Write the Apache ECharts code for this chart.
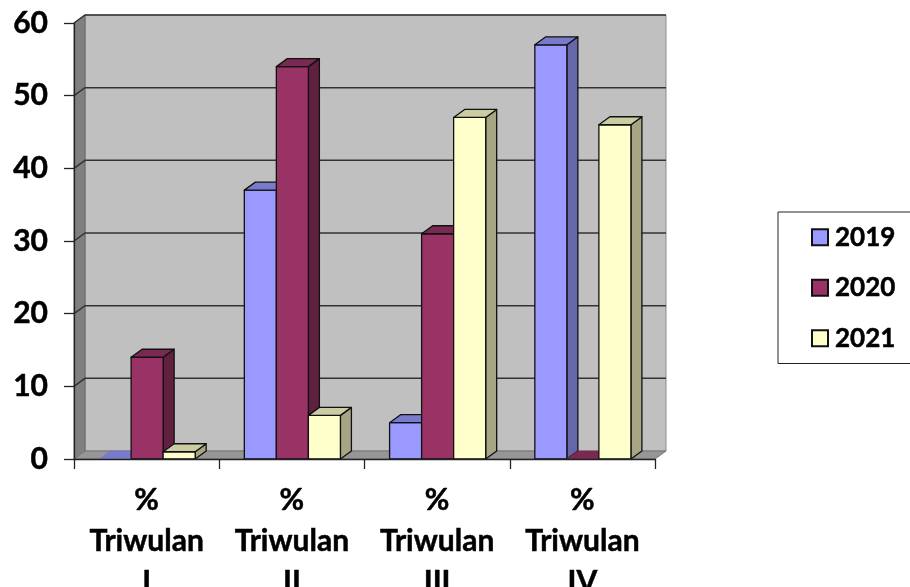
<!DOCTYPE html>
<html>
<head>
<meta charset="utf-8">
<style>html,body{margin:0;padding:0;background:#fff;overflow:hidden}#chart{width:910px;height:587px}</style>
<script src="https://cdn.jsdelivr.net/npm/echarts@6/dist/echarts.min.js"></script>
</head>
<body>
<div id="chart"></div>
<script>
const categories = ['%\nTriwulan\nI', '%\nTriwulan\nII', '%\nTriwulan\nIII', '%\nTriwulan\nIV'];
const yTicks = [0, 10, 20, 30, 40, 50, 60];
const values2019 = [0, 37, 5, 57];
const values2020 = [14, 54, 31, 0];
const values2021 = [1, 6, 47, 46];

const seriesNames = ['2019', '2020', '2021'];
const seriesValues = [values2019, values2020, values2021];
const faceColors = [
  { front: '#9999FF', top: '#7A7ACC', side: '#6666AA' },
  { front: '#993366', top: '#7A2952', side: '#602040' },
  { front: '#FFFFCC', top: '#CCCCA3', side: '#A6A684' }
];

const DEPTH_X = 11, DEPTH_Y = 8;
const FONT = 'Lato, "Open Sans", sans-serif';
const boldText = { textBorderColor: '#000', textBorderWidth: 0.5 };

function poly(points, fill, stroke, width) {
  return {
    type: 'polygon',
    shape: { points },
    style: { fill, stroke, lineWidth: width, lineJoin: 'round' }
  };
}

// Back wall, side wall, floor and the gridlines that wrap around the walls.
function renderWalls(params, api) {
  const cs = params.coordSys;
  const left = cs.x, right = cs.x + cs.width;
  const y = api.coord([0, api.value(1)])[1];
  const children = [];
  if (params.dataIndex === 0) {
    const top = cs.y, bottom = cs.y + cs.height;
    children.push(
      poly([[left + DEPTH_X, top - DEPTH_Y], [right + DEPTH_X, top - DEPTH_Y],
            [right + DEPTH_X, bottom - DEPTH_Y], [left + DEPTH_X, bottom - DEPTH_Y]], '#C0C0C0', '#8C8C8C', 1),
      poly([[left, top], [left + DEPTH_X, top - DEPTH_Y],
            [left + DEPTH_X, bottom - DEPTH_Y], [left, bottom]], '#808080', '#666666', 1),
      poly([[left, bottom], [left + DEPTH_X, bottom - DEPTH_Y],
            [right + DEPTH_X, bottom - DEPTH_Y], [right, bottom]], '#969696', '#777777', 1)
    );
  }
  if (api.value(1) > 0) {
    children.push({
      type: 'polyline',
      shape: { points: [[left, y], [left + DEPTH_X, y - DEPTH_Y], [right + DEPTH_X, y - DEPTH_Y]] },
      style: { fill: 'none', stroke: '#333333', lineWidth: 1.5 }
    });
  }
  return { type: 'group', children };
}

// One extruded column: front, top and side faces, offset inside its category band.
function makeBarRenderer(seriesIndex) {
  return function (params, api) {
    const center = api.coord([api.value(0), 0]);
    const tip = api.coord([api.value(0), api.value(1)]);
    const band = api.size([1, 0])[0];
    const w = band * 0.2205;
    const x0 = center[0] + (seriesIndex - 1.5) * w + 0.5;
    const x1 = x0 + w;
    const yB = center[1], yT = tip[1];
    const c = faceColors[seriesIndex];
    const edge = '#111111';
    const children = [];
    if (yB - yT > 0.5) {
      children.push(poly([[x1, yT], [x1 + DEPTH_X, yT - DEPTH_Y], [x1 + DEPTH_X, yB - DEPTH_Y], [x1, yB]], c.side, edge, 1.3));
      children.push(poly([[x0, yT], [x1, yT], [x1, yB], [x0, yB]], c.front, edge, 1.3));
      children.push(poly([[x0, yT], [x0 + DEPTH_X, yT - DEPTH_Y], [x1 + DEPTH_X, yT - DEPTH_Y], [x1, yT]], c.top, edge, 1.3));
    } else {
      children.push(poly([[x0, yT], [x0 + DEPTH_X, yT - DEPTH_Y], [x1 + DEPTH_X, yT - DEPTH_Y], [x1, yT]], c.top, c.top, 0.5));
    }
    return { type: 'group', children };
  };
}

const chart = echarts.init(document.getElementById('chart'), null, { renderer: 'canvas' });
chart.setOption({
  animation: false,
  backgroundColor: '#ffffff',
  grid: { left: 74, top: 23, width: 581, height: 436, containLabel: false, outerBoundsMode: 'none' },
  xAxis: {
    type: 'category',
    data: categories,
    z: 5,
    axisLine: { lineStyle: { color: '#222222', width: 1.3 } },
    axisTick: { show: true, length: 10, alignWithLabel: false, lineStyle: { color: '#222222', width: 1.3 } },
    axisLabel: Object.assign({
      interval: 0, margin: 21, color: '#000', fontFamily: FONT, fontWeight: 'bold',
      fontSize: 30, lineHeight: 41, overflow: 'none', hideOverlap: false
    }, boldText),
    splitLine: { show: false }
  },
  yAxis: {
    type: 'value',
    min: 0, max: 60, interval: 10,
    z: 5,
    axisLine: { show: true, lineStyle: { color: '#222222', width: 1.3 } },
    axisTick: { show: true, length: 10, lineStyle: { color: '#222222', width: 1.3 } },
    axisLabel: Object.assign({ margin: 26, color: '#000', fontFamily: FONT, fontWeight: 'bold', fontSize: 30 }, boldText),
    splitLine: { show: false }
  },
  legend: {
    show: true,
    data: seriesNames,
    orient: 'vertical',
    left: 778,
    top: 212,
    padding: [12, 40, 12, 33],
    itemGap: 24,
    itemWidth: 16,
    itemHeight: 16,
    icon: 'rect',
    borderColor: '#222222',
    borderWidth: 1,
    backgroundColor: '#ffffff',
    selectedMode: false,
    textStyle: Object.assign({ color: '#000', fontFamily: FONT, fontWeight: 'bold', fontSize: 26, padding: [0, 0, 0, 2] }, boldText)
  },
  series: [
    {
      type: 'custom',
      name: 'walls',
      z: 1,
      silent: true,
      clip: false,
      renderItem: renderWalls,
      encode: { x: 0, y: 1 },
      data: yTicks.map(v => [0, v])
    }
  ].concat(seriesNames.map((name, i) => ({
    type: 'custom',
    name,
    z: 2 + i,
    clip: false,
    renderItem: makeBarRenderer(i),
    encode: { x: 0, y: 1 },
    itemStyle: { color: faceColors[i].front, borderColor: '#111111', borderWidth: 2 },
    data: seriesValues[i].map((v, k) => [k, v])
  })))
});
</script>
</body>
</html>
